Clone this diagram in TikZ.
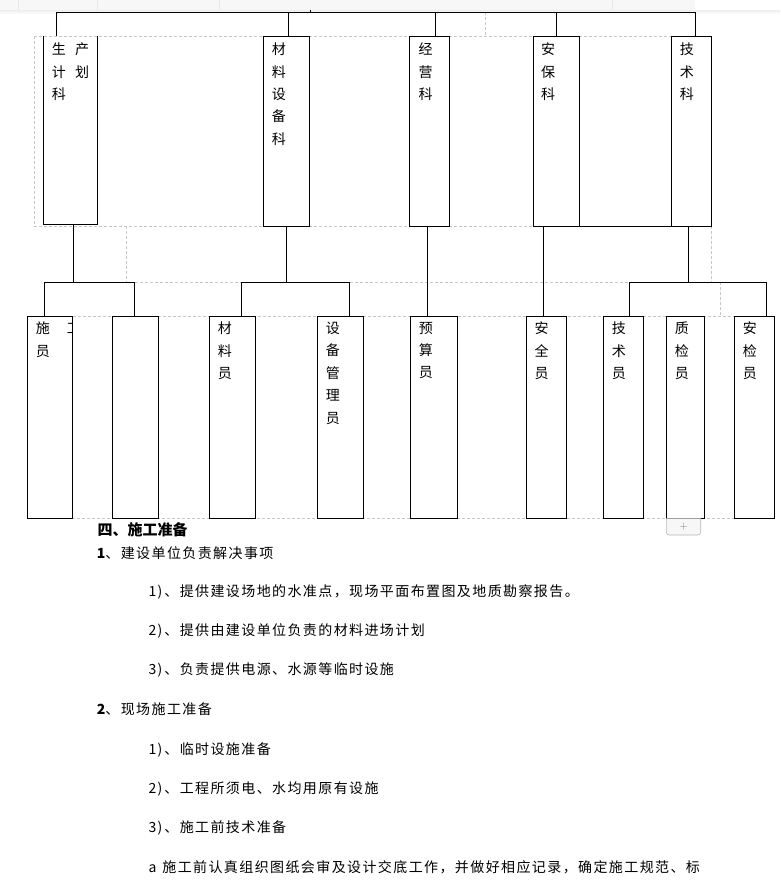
\documentclass[tikz,border=0pt]{standalone}
\usepackage{fontspec}
\newfontfamily\cjk{Noto Sans CJK SC}
\newfontfamily\cjksp{Noto Sans CJK SC}[LetterSpace=10]
\usetikzlibrary{calc}
\newcommand\mynum[1]{#1)\kern2pt 、}
\begin{document}
\begin{tikzpicture}[x=1pt,y=-1pt,
  box/.style={draw, line width=0.9pt, inner sep=0pt, outer sep=0pt, anchor=north west},
  openbox/.style={inner sep=0pt, outer sep=0pt, anchor=north west},
  conn/.style={line width=0.9pt},
  guide/.style={draw=black!22, dash pattern=on 3pt off 2pt, line width=0.7pt},
  lab/.style={font=\cjk\fontsize{14}{22.4}\selectfont, align=left, inner sep=0pt, anchor=north west},
  body/.style={font=\cjksp\fontsize{14}{16}\selectfont, inner sep=0pt, anchor=base west},
  head/.style={font=\cjk\bfseries\fontsize{15}{18}\selectfont, inner sep=0pt, anchor=base west}]
\useasboundingbox (0,0) rectangle (780,884);
\fill[white] (0,0) rectangle (780,884);
% top band (page artefact)
\fill[black!3] (0,0) rectangle (695,10);
\shade[top color=black!7, bottom color=white] (0,10) rectangle (780,14);
\foreach \sx in {18.4,97.5,219,612} \draw[black!9, line width=0.6pt] (\sx,0) -- (\sx,10);

% dashed layout guides
\draw[guide] (34.3,36) -- (671.3,36);
\draw[guide] (34.3,36) -- (34.3,226.3) -- (533.3,226.3);
\draw[guide] (126.3,226.3) -- (126.3,282.3) -- (629.3,282.3);
\draw[guide] (485.7,12.3) -- (485.7,36);
\draw[guide] (711.3,226.3) -- (711.3,282.3);
\draw[guide] (720.7,282.3) -- (720.7,316.3);
\draw[guide] (72.7,316.3) -- (734.3,316.3);
\draw[guide] (27.3,518.3) -- (774.3,518.3);

% level 1 boxes
\node[openbox, minimum width=54pt, minimum height=188.3pt] (A) at (43.3,36) {};
\draw[conn] (A.north west) -- (A.south west) -- (A.south east) -- (A.north east);
\node[box, minimum width=46pt, minimum height=190.3pt] (B) at (263.3,36) {};
\node[box, minimum width=40pt, minimum height=190.3pt] (C) at (409.3,36) {};
\node[box, minimum width=46pt, minimum height=190.3pt] (D) at (533.3,36) {};
\node[box, minimum width=40pt, minimum height=190.3pt] (E) at (671.3,36) {};

% level 2 boxes
\node[box, minimum width=45.4pt, minimum height=202pt] (a1) at (27.3,316.3) {};
\node[box, minimum width=46pt, minimum height=202pt] (a2) at (112.3,316.3) {};
\node[box, minimum width=46pt, minimum height=202pt] (b1) at (209.3,316.3) {};
\node[box, minimum width=46pt, minimum height=202pt] (b2) at (317.3,316.3) {};
\node[box, minimum width=47.4pt, minimum height=202pt] (c1) at (410.3,316.3) {};
\node[box, minimum width=40pt, minimum height=202pt] (d1) at (526.3,316.3) {};
\node[box, minimum width=40pt, minimum height=202pt] (e1) at (603.3,316.3) {};
\node[box, minimum width=38pt, minimum height=202pt] (e2) at (666.3,316.3) {};
\node[box, minimum width=40pt, minimum height=202pt] (e3) at (734.3,316.3) {};

% labels level 1
\node[lab] (lA) at ($(A.north west)+(8.4,6.8)$) {生\hspace{9.3pt}产\\计\hspace{9.3pt}划\\科};
\node[lab] (lB) at ($(B.north west)+(8.4,6.8)$) {材\\料\\设\\备\\科};
\node[lab] (lC) at ($(C.north west)+(9,6.8)$) {经\\营\\科};
\node[lab] (lD) at ($(D.north west)+(7.7,6.8)$) {安\\保\\科};
\node[lab] (lE) at ($(E.north west)+(8.4,6.8)$) {技\\术\\科};

% labels level 2
\begin{scope}
\clip (a1.north west) rectangle (a1.south east);
\node[lab] (la1) at ($(a1.north west)+(8.4,5.5)$) {施\hspace{17pt}工\\员};
\end{scope}
\node[lab] (lb1) at ($(b1.north west)+(8.4,5.5)$) {材\\料\\员};
\node[lab] (lb2) at ($(b2.north west)+(8.4,5.5)$) {设\\备\\管\\理\\员};
\node[lab] (lc1) at ($(c1.north west)+(8.4,5.5)$) {预\\算\\员};
\node[lab] (ld1) at ($(d1.north west)+(8,5.5)$) {安\\全\\员};
\node[lab] (le1) at ($(e1.north west)+(8.4,5.5)$) {技\\术\\员};
\node[lab] (le2) at ($(e2.north west)+(8.4,5.5)$) {质\\检\\员};
\node[lab] (le3) at ($(e3.north west)+(8.4,5.5)$) {安\\检\\员};

% top bus
\coordinate (busA) at (56.3,12.3);
\coordinate (busB) at (288.3,12.3);
\coordinate (busC) at (435.3,12.3);
\coordinate (busD) at (556.3,12.3);
\coordinate (busE) at (695.3,12.3);
\coordinate (tick) at (310.3,9.6);
\draw[conn] (busA) -- (busE);
\draw[conn, line width=0.6pt] (tick) -- (tick |- busA);
\draw[conn] (busA) -- (busA |- A.north);
\draw[conn] (busB) -- (busB |- B.north);
\draw[conn] (busC) -- (busC |- C.north);
\draw[conn] (busD) -- (busD |- D.north);
\draw[conn] (busE) -- (busE |- E.north);
\draw[conn] (D.south east) -- (E.south west);

% second level connectors
\coordinate (jA) at (73.3,282.3);
\coordinate (jA1) at (44.3,282.3);
\coordinate (jA2) at (134.3,282.3);
\draw[conn] (jA |- A.south) -- (jA);
\draw[conn] (jA1) -- (jA2);
\draw[conn] (jA1) -- (jA1 |- a1.north);
\draw[conn] (jA2) -- (jA2 |- a2.north);

\coordinate (jB) at (286.3,282.3);
\coordinate (jB1) at (241.3,282.3);
\coordinate (jB2) at (349.3,282.3);
\draw[conn] (jB |- B.south) -- (jB);
\draw[conn] (jB1) -- (jB2);
\draw[conn] (jB1) -- (jB1 |- b1.north);
\draw[conn] (jB2) -- (jB2 |- b2.north);

\coordinate (jC) at (427.3,282.3);
\draw[conn] (jC |- C.south) -- (jC |- c1.north);
\coordinate (jD) at (543.3,282.3);
\draw[conn] (jD |- D.south) -- (jD |- d1.north);

\coordinate (jE) at (688.3,282.3);
\coordinate (jE1) at (629.3,282.3);
\coordinate (jE2) at (766.3,282.3);
\draw[conn] (jE |- E.south) -- (jE);
\draw[conn] (jE1) -- (jE2);
\draw[conn] (jE1) -- (jE1 |- e1.north);
\draw[conn] (jE2) -- (jE2 |- e3.north);

% plus button
\draw[draw=black!28, fill=black!3, line width=0.6pt, rounded corners=3pt] (666.3,518.3) -- (666.3,535) -- (700.7,535) -- (700.7,518.3);
\node[font=\sffamily\fontsize{11}{11}\selectfont, text=black!55, inner sep=0pt] (plusbtn) at (683.5,527) {+};

% body text
\node[head] (h4) at (97.3,535.7) {四、施工准备};
\node[body] (t1) at (96.7,558) {{\bfseries 1}、建设单位负责解决事项};
\node[body] (t11) at (148.3,596.3) {\mynum{1}提供建设场地的水准点，现场平面布置图及地质勘察报告。};
\node[body] (t12) at (148.3,635.3) {\mynum{2}提供由建设单位负责的材料进场计划};
\node[body] (t13) at (148.3,674.6) {\mynum{3}负责提供电源、水源等临时设施};
\node[body] (t2) at (96.7,714.3) {{\bfseries 2}、现场施工准备};
\node[body] (t21) at (148.3,754) {\mynum{1}临时设施准备};
\node[body] (t22) at (148.3,793.3) {\mynum{2}工程所须电、水均用原有设施};
\node[body] (t23) at (148.3,832.6) {\mynum{3}施工前技术准备};
\node[body] (t3) at (148.3,872) {a\kern6pt 施工前认真组织图纸会审及设计交底工作，并做好相应记录，确定施工规范、标};
\end{tikzpicture}
\end{document}
